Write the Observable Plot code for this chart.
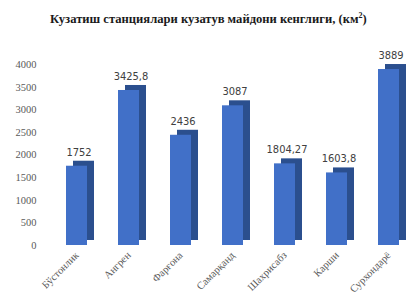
<!DOCTYPE html>
<html><head><meta charset="utf-8">
<script src="https://cdn.jsdelivr.net/npm/d3@7"></script>
<script src="https://cdn.jsdelivr.net/npm/@observablehq/plot@0.6"></script>
<style>
body{margin:0;background:#fff;overflow:hidden;width:406px;height:306px}
#title{height:30px;line-height:32px;font-family:"Liberation Serif",serif;font-weight:bold;font-size:12.6px;color:#1a1a1a;padding-left:50px;white-space:nowrap}
</style></head><body>
<div id="title">Кузатиш станциялари кузатув майдони кенглиги, (км<sup style="font-size:8px">2</sup>)</div>
<div id="chart"></div>
<script>
const stations = ["Бўстонлик","Ангрен","Фарғона","Самарқанд","Шахрисабз","Карши","Сурхондарё"];
const areas = [1752, 3425.8, 2436, 3087, 1804.27, 1603.8, 3889];
const yTicks = [0,500,1000,1500,2000,2500,3000,3500,4000];

const data = stations.map((s,i)=>({station:s, area:areas[i], label:String(areas[i]).replace(".", ",")}));

const chart = Plot.plot({
  width: 406,
  height: 276,
  marginTop: 34,
  marginBottom: 61,
  marginLeft: 40,
  marginRight: 0,
  style: {fontFamily: "Liberation Serif, serif", background: "#fff"},
  x: {domain: stations, range: [54, 410], padding: 0.6, paddingOuter: 0.2, label: null},
  y: {domain: [0, 4000], label: null},
  marks: [
    Plot.barY(data, {x: "station", y: "area", fill: "#2b4f8e", dx: 7, dy: -5}),
    Plot.barY(data, {x: "station", y: "area", fill: "#4170c8"}),
    Plot.text(data, {x: "station", y: "area", text: "label", dy: -14, dx: 2, fill: "#404040", fontSize: 11, fontFamily: "Liberation Sans Narrow, DejaVu Sans Condensed, sans-serif"}),
    Plot.axisY({ticks: yTicks, tickFormat: d => String(d), tickSize: 0, tickPadding: 4, fontSize: 10.5, color: "#595959", label: null}),
    Plot.axisX({tickSize: 0, tickPadding: 8, tickRotate: -45, fontSize: 10.5, color: "#595959", label: null})
  ]
});
document.getElementById("chart").appendChild(chart);
</script>
</body></html>
